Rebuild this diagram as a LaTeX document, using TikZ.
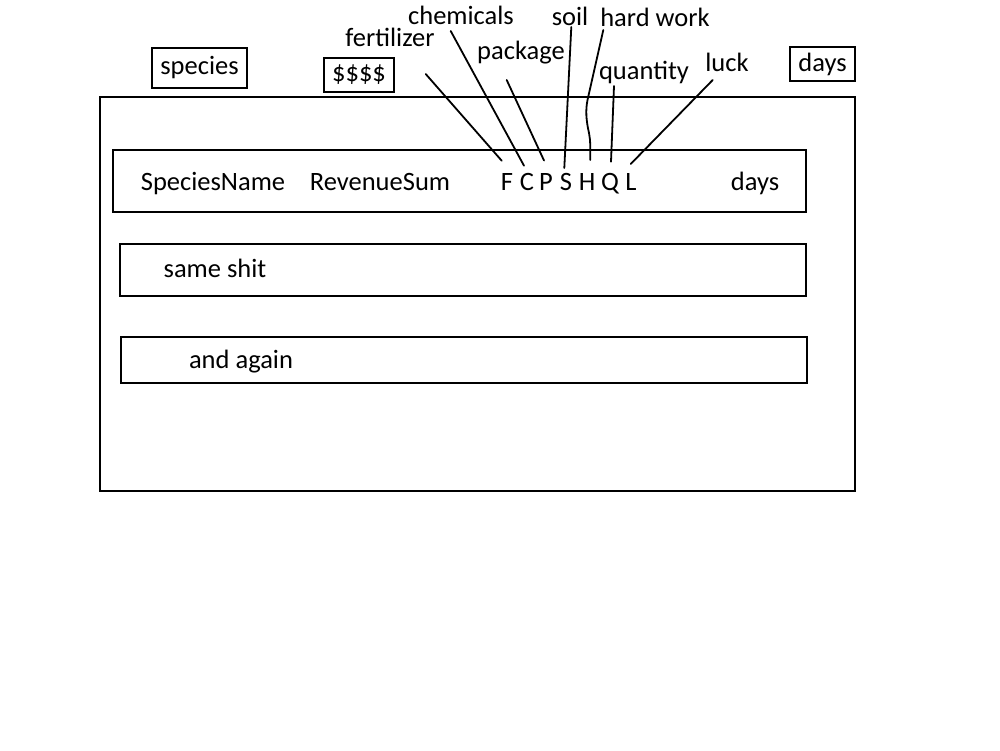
\documentclass[tikz,border=0pt]{standalone}
\usepackage{fontspec}
\setmainfont{Carlito}
\begin{document}
\begin{tikzpicture}[x=1pt,y=-1pt,
  every node/.style={font=\fontsize{26.5}{30}\selectfont, inner sep=0pt},
  boxnode/.style={draw, line width=2pt, rectangle},
  txt/.style={anchor=base},
  lead/.style={line width=1.8pt, line cap=round}]
\useasboundingbox (0,0) rectangle (1000,750);
\fill[white] (0,0) rectangle (1000,750);
% outer frame and rows
\node[boxnode, minimum width=755, minimum height=394] (outer) at (477.5,294) {};
\node[boxnode, minimum width=693, minimum height=62] (row1) at (459.5,181) {};
\node[boxnode, minimum width=686, minimum height=52] (row2) at (463,270) {};
\node[boxnode, minimum width=686, minimum height=46] (row3) at (464,360) {};
% top boxes
\node[boxnode, minimum width=95, minimum height=40] (species) at (199.5,68) {\raisebox{-1.5pt}{species}};
\node[boxnode, minimum width=70, minimum height=34] (money) at (359,75) {\raisebox{-4pt}{\$\$\$\$}};
\node[boxnode, minimum width=65, minimum height=34] (daysbox) at (822.5,64) {\raisebox{-1.5pt}{days}};
% row texts
\node[txt] (sn) at (213,190) {SpeciesName};
\node[txt] (rs) at (380,190) {RevenueSum};
\node[txt] (lF) at (507,190) {F};
\node[txt] (lC) at (527,190) {C};
\node[txt] (lP) at (546,190) {P};
\node[txt] (lS) at (566,190) {S};
\node[txt] (lH) at (587,190) {H};
\node[txt] (lQ) at (610,190) {Q};
\node[txt] (lL) at (631,190) {L};
\node[txt] (dy) at (755,190) {days};
\node[txt] (same) at (215,277) {same shit};
\node[txt] (again) at (241,368) {and again};
% labels
\node[txt] (fert) at (390,46.5) {fertilizer};
\node[txt] (chem) at (461,24) {chemicals};
\node[txt] (pack) at (521,59) {package};
\node[txt] (soil) at (570,25) {soil};
\node[txt] (hard) at (655,26) {hard work};
\node[txt] (quan) at (644,79) {quantity};
\node[txt] (luck) at (727,71) {luck};
% connector end points
\coordinate (fA) at (425.7,74);   \coordinate (fB) at (501.7,160.7);
\coordinate (cA) at (450.7,31);   \coordinate (cB) at (524,165.7);
\coordinate (pA) at (506.7,80);   \coordinate (pB) at (544,160.5);
\coordinate (sA) at (571.3,27);   \coordinate (sB) at (564.3,168);
\coordinate (hA) at (603.3,30);   \coordinate (hB) at (590.3,160);
\coordinate (qA) at (614,86);     \coordinate (qB) at (611,161.7);
\coordinate (kA) at (712.7,80);   \coordinate (kB) at (630.7,164);
\draw[lead] (fA) -- (fB);
\draw[lead] (cA) -- (cB);
\draw[lead] (pA) -- (pB);
\draw[lead] (sA) -- (sB);
\draw[lead] (hA) -- (587.5,100) .. controls (585.5,110) and (586,120) .. (589,133) .. controls (590.5,140) and (590.3,148) .. (hB);
\draw[lead] (qA) -- (qB);
\draw[lead] (kA) -- (kB);
\end{tikzpicture}
\end{document}
